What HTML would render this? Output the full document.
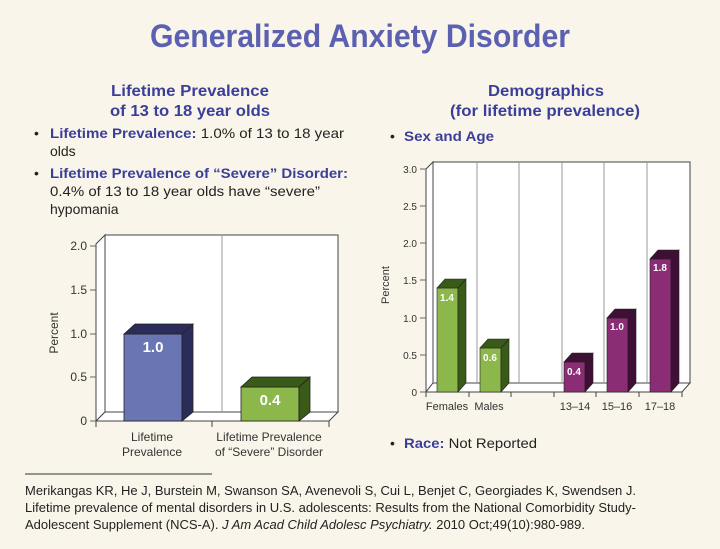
<!DOCTYPE html>
<html><head><meta charset="utf-8"><style>
html,body{margin:0;padding:0;background:#f9f5ea;}
svg{display:block;font-family:"Liberation Sans",Arial,sans-serif;}
</style></head><body>
<svg width="720" height="549" viewBox="0 0 720 549" xmlns="http://www.w3.org/2000/svg">
<rect width="720" height="549" fill="#f9f5ea"/>
<text x="360" y="47" text-anchor="middle" font-size="32" font-weight="bold" fill="#5b60b0" textLength="420" lengthAdjust="spacingAndGlyphs">Generalized Anxiety Disorder</text>

<g font-size="16" font-weight="bold" fill="#3a3f9a" text-anchor="middle">
<text x="190" y="96" textLength="158" lengthAdjust="spacingAndGlyphs">Lifetime Prevalence</text>
<text x="190" y="116" textLength="160" lengthAdjust="spacingAndGlyphs">of 13 to 18 year olds</text>
<text x="546" y="96" textLength="116" lengthAdjust="spacingAndGlyphs">Demographics</text>
<text x="545" y="116" textLength="190" lengthAdjust="spacingAndGlyphs">(for lifetime prevalence)</text>
</g>

<g font-size="14" fill="#222">
<text x="34" y="138">•</text>
<text x="50" y="138" textLength="294" lengthAdjust="spacingAndGlyphs"><tspan fill="#3a3f9a" font-weight="bold">Lifetime Prevalence:</tspan> 1.0% of 13 to 18 year</text>
<text x="50" y="156">olds</text>
<text x="34" y="178">•</text>
<text x="50" y="178" textLength="298" lengthAdjust="spacingAndGlyphs" fill="#3a3f9a" font-weight="bold">Lifetime Prevalence of “Severe” Disorder:</text>
<text x="50" y="196" textLength="270" lengthAdjust="spacingAndGlyphs">0.4% of 13 to 18 year olds have “severe”</text>
<text x="50" y="214">hypomania</text>
<text x="390" y="141">•</text>
<text x="404" y="141" fill="#3a3f9a" font-weight="bold" textLength="90" lengthAdjust="spacingAndGlyphs">Sex and Age</text>
<text x="390" y="448">•</text>
<text x="404" y="448" textLength="133" lengthAdjust="spacingAndGlyphs"><tspan fill="#3a3f9a" font-weight="bold">Race:</tspan> Not Reported</text>
</g>

<!-- LEFT CHART -->
<g stroke="#444" stroke-width="1">
<polygon points="105,235 338,235 338,412 105,412" fill="#fff"/>
<polygon points="105,235 96,244 96,421 105,412" fill="#fff"/>
<polygon points="105,412 338,412 329,421 96,421" fill="#fff"/>
<line x1="222" y1="235" x2="222" y2="412" stroke="#999"/>
<line x1="96" y1="421" x2="96" y2="427"/><line x1="212" y1="421" x2="212" y2="427"/><line x1="329" y1="421" x2="329" y2="427"/>
</g>
<g stroke="#666" stroke-width="1">
<line x1="90" y1="246" x2="96" y2="246"/><line x1="90" y1="290" x2="96" y2="290"/><line x1="90" y1="334" x2="96" y2="334"/><line x1="90" y1="377" x2="96" y2="377"/><line x1="90" y1="421" x2="96" y2="421"/>
</g>
<g font-size="12" fill="#333" text-anchor="end">
<text x="87" y="250">2.0</text><text x="87" y="294">1.5</text><text x="87" y="338">1.0</text><text x="87" y="381">0.5</text><text x="87" y="425">0</text>
</g>
<text transform="translate(58,333) rotate(-90)" font-size="12" fill="#333" text-anchor="middle">Percent</text>
<g stroke="#222" stroke-width="0.8">
<rect x="124" y="334" width="58" height="87" fill="#6a76b3"/>
<polygon points="182,334 193,324 193,412 182,421" fill="#2c2c5a"/>
<polygon points="124,334 135,324 193,324 182,334" fill="#2c2c5a"/>
<rect x="241" y="387" width="58" height="34" fill="#8cb84b"/>
<polygon points="299,387 310,377 310,412 299,421" fill="#3a5a18"/>
<polygon points="241,387 252,377 310,377 299,387" fill="#3a5a18"/>
</g>
<g font-size="15" font-weight="bold" fill="#fff" text-anchor="middle">
<text x="153" y="352">1.0</text><text x="270" y="405">0.4</text>
</g>
<g font-size="12" fill="#333" text-anchor="middle">
<text x="152" y="441">Lifetime</text><text x="152" y="456">Prevalence</text>
<text x="269" y="441">Lifetime Prevalence</text><text x="269" y="456">of “Severe” Disorder</text>
</g>

<!-- RIGHT CHART -->
<g stroke="#444" stroke-width="1">
<polygon points="433,162 690,162 690,383 433,383" fill="#fff"/>
<polygon points="433,162 426,169 426,392 433,383" fill="#fff"/>
<polygon points="433,383 690,383 682,392 426,392" fill="#fff"/>
<g stroke="#999"><line x1="477" y1="162" x2="477" y2="383"/><line x1="519" y1="162" x2="519" y2="383"/><line x1="562" y1="162" x2="562" y2="383"/><line x1="604" y1="162" x2="604" y2="383"/><line x1="647" y1="162" x2="647" y2="383"/></g>
<line x1="426" y1="392" x2="426" y2="397"/><line x1="469" y1="392" x2="469" y2="397"/><line x1="511" y1="392" x2="511" y2="397"/><line x1="554" y1="392" x2="554" y2="397"/><line x1="596" y1="392" x2="596" y2="397"/><line x1="639" y1="392" x2="639" y2="397"/><line x1="682" y1="392" x2="682" y2="397"/>
</g>
<g stroke="#666"><line x1="420" y1="169" x2="426" y2="169"/><line x1="420" y1="206" x2="426" y2="206"/><line x1="420" y1="243" x2="426" y2="243"/><line x1="420" y1="280" x2="426" y2="280"/><line x1="420" y1="318" x2="426" y2="318"/><line x1="420" y1="355" x2="426" y2="355"/><line x1="420" y1="392" x2="426" y2="392"/></g>
<g font-size="10" fill="#333" text-anchor="end">
<text x="417" y="173">3.0</text><text x="417" y="210">2.5</text><text x="417" y="247">2.0</text><text x="417" y="284">1.5</text><text x="417" y="322">1.0</text><text x="417" y="359">0.5</text><text x="417" y="396">0</text>
</g>
<text transform="translate(389,285) rotate(-90)" font-size="11" fill="#333" text-anchor="middle">Percent</text>
<g stroke="#222" stroke-width="0.6">
<rect x="437" y="288" width="21" height="104" fill="#8cb84b"/><polygon points="458,288 466,279 466,383 458,392" fill="#3a5a18"/><polygon points="437,288 445,279 466,279 458,288" fill="#3a5a18"/>
<rect x="480" y="348" width="21" height="44" fill="#8cb84b"/><polygon points="501,348 509,339 509,383 501,392" fill="#3a5a18"/><polygon points="480,348 488,339 509,339 501,348" fill="#3a5a18"/>
<rect x="564" y="362" width="21" height="30" fill="#8a2d74"/><polygon points="585,362 593,353 593,383 585,392" fill="#3f0f36"/><polygon points="564,362 572,353 593,353 585,362" fill="#3f0f36"/>
<rect x="607" y="318" width="21" height="74" fill="#8a2d74"/><polygon points="628,318 636,309 636,383 628,392" fill="#3f0f36"/><polygon points="607,318 615,309 636,309 628,318" fill="#3f0f36"/>
<rect x="650" y="259" width="21" height="133" fill="#8a2d74"/><polygon points="671,259 679,250 679,383 671,392" fill="#3f0f36"/><polygon points="650,259 658,250 679,250 671,259" fill="#3f0f36"/>
</g>
<g font-size="10" font-weight="bold" fill="#fff" text-anchor="middle">
<text x="447" y="301">1.4</text><text x="490" y="361">0.6</text><text x="574" y="375">0.4</text><text x="617" y="330">1.0</text><text x="660" y="271">1.8</text>
</g>
<g font-size="11" fill="#333" text-anchor="middle">
<text x="447" y="410">Females</text><text x="489" y="410">Males</text><text x="575" y="410">13–14</text><text x="617" y="410">15–16</text><text x="660" y="410">17–18</text>
</g>

<!-- FOOTER -->
<line x1="25" y1="474" x2="212" y2="474" stroke="#333" stroke-width="1"/>
<g font-size="12.5" fill="#222">
<text x="25" y="495" textLength="611" lengthAdjust="spacingAndGlyphs">Merikangas KR, He J, Burstein M, Swanson SA, Avenevoli S, Cui L, Benjet C, Georgiades K, Swendsen J.</text>
<text x="25" y="512" textLength="611" lengthAdjust="spacingAndGlyphs">Lifetime prevalence of mental disorders in U.S. adolescents: Results from the National Comorbidity Study-</text>
<text x="25" y="529" textLength="560" lengthAdjust="spacingAndGlyphs">Adolescent Supplement (NCS-A). <tspan font-style="italic">J Am Acad Child Adolesc Psychiatry.</tspan> 2010 Oct;49(10):980-989.</text>
</g>
</svg>
</body></html>
